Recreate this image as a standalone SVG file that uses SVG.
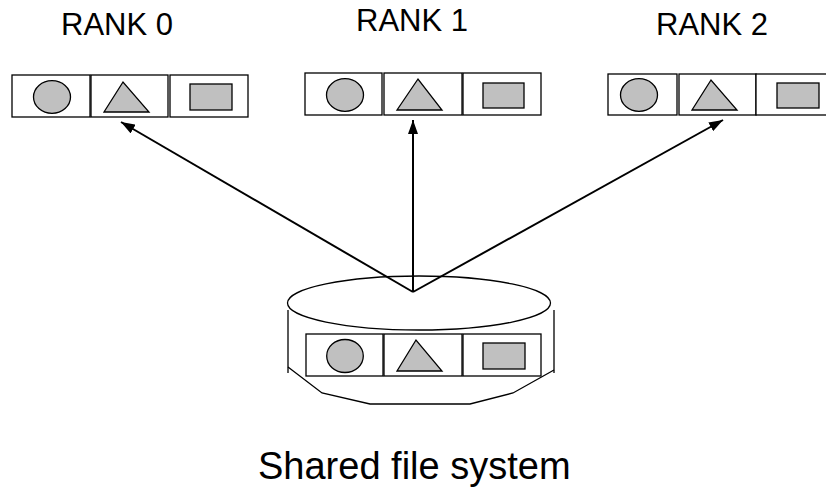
<svg xmlns="http://www.w3.org/2000/svg" width="826" height="491" viewBox="0 0 826 491">
<style>
.box{fill:#fff;stroke:#000;stroke-width:1.3}
.sh{fill:#c0c0c0;stroke:#000;stroke-width:1.3}
.lbl{font-family:"Liberation Sans",Arial,sans-serif;fill:#000}
.arr{stroke:#000;stroke-width:2;fill:none}
.cyl{fill:none;stroke:#000;stroke-width:1.3}
</style>
<defs>
<marker id="ah" viewBox="0 0 14 10" refX="14" refY="5" markerWidth="14" markerHeight="10" markerUnits="userSpaceOnUse" orient="auto">
<path d="M0,0 L14,5 L0,10 Z" fill="#000"/>
</marker>
</defs>
<rect width="826" height="491" fill="#fff"/>

<g id="rank0">
<text class="lbl" x="61" y="35" font-size="31">RANK 0</text>
<rect class="box" x="12" y="75" width="78" height="42"/>
<rect class="box" x="91" y="75" width="77" height="42"/>
<rect class="box" x="170" y="75" width="78" height="42"/>
<ellipse class="sh" cx="52" cy="97" rx="18.5" ry="16.3"/>
<polygon class="sh" points="123,82 104,112 149,112"/>
<rect class="sh" x="190" y="84" width="42" height="26"/>
</g>

<g id="rank1">
<text class="lbl" x="356" y="31" font-size="31">RANK 1</text>
<rect class="box" x="305" y="73" width="77" height="42"/>
<rect class="box" x="384" y="73" width="78" height="42"/>
<rect class="box" x="463" y="73" width="78" height="42"/>
<ellipse class="sh" cx="345" cy="95" rx="18.5" ry="16.3"/>
<polygon class="sh" points="418,79 397,110 442,110"/>
<rect class="sh" x="483" y="83" width="41" height="25"/>
</g>

<g id="rank2">
<text class="lbl" x="656" y="35" font-size="31">RANK 2</text>
<rect class="box" x="608" y="74" width="69" height="41"/>
<rect class="box" x="679" y="74" width="77" height="41"/>
<rect class="box" x="756" y="74" width="80" height="41"/>
<ellipse class="sh" cx="639" cy="95" rx="18.5" ry="16.3"/>
<polygon class="sh" points="711,80 692,110 737,110"/>
<rect class="sh" x="777" y="83" width="42" height="25"/>
</g>

<g id="shared_fs">
<ellipse class="cyl" cx="419" cy="303" rx="131.5" ry="27"/>
<line class="cyl" x1="288" y1="310" x2="288" y2="373"/>
<line class="cyl" x1="554" y1="310" x2="554" y2="373"/>
<polyline class="cyl" points="288,367 322,393 370,404 470,404 513,393 554,370"/>
<rect class="box" x="306" y="334" width="77" height="42"/>
<rect class="box" x="384" y="334" width="78" height="42"/>
<rect class="box" x="463" y="334" width="78" height="42"/>
<ellipse class="sh" cx="345" cy="356" rx="18.3" ry="16.5"/>
<polygon class="sh" points="416,340 397,371 442,371"/>
<rect class="sh" x="483" y="343" width="42" height="26"/>
<text class="lbl" x="258" y="479" font-size="38">Shared file system</text>
</g>

<g id="connectors">
<line class="arr" x1="413" y1="292" x2="121" y2="122" marker-end="url(#ah)"/>
<line class="arr" x1="413" y1="292" x2="413" y2="120" marker-end="url(#ah)"/>
<line class="arr" x1="413" y1="292" x2="723" y2="120" marker-end="url(#ah)"/>
</g>
</svg>
